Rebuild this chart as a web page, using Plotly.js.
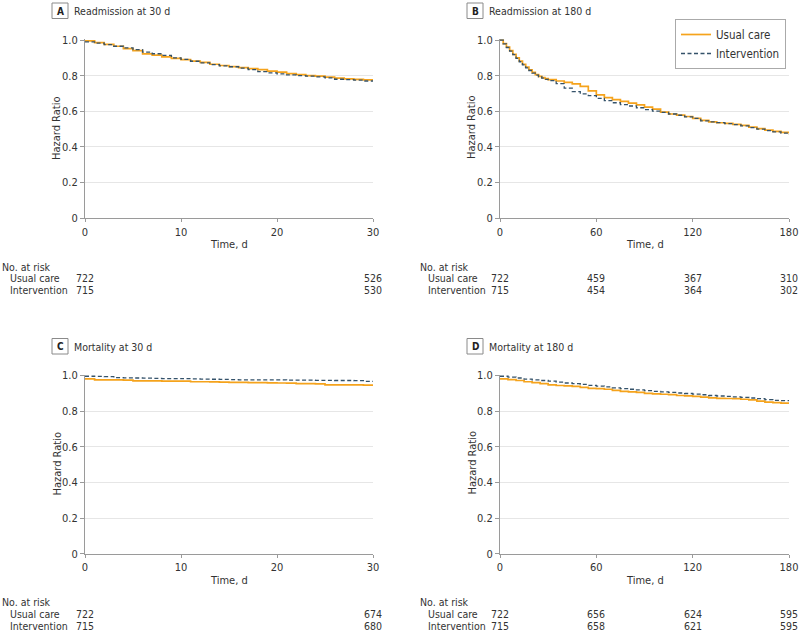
<!DOCTYPE html>
<html>
<head>
<meta charset="utf-8">
<script src="https://cdn.plot.ly/plotly-3.0.1.min.js"></script>
<style>html,body{margin:0;padding:0;background:#fff;}#chart{width:800px;height:633px;}</style>
</head>
<body>
<div id="chart"></div>
<script>
// ---- Data ----
const panelLabels = ["A", "B", "C", "D"];
const panelTitles = ["Readmission at 30 d", "Readmission at 180 d", "Mortality at 30 d", "Mortality at 180 d"];
const seriesNames = ["Usual care", "Intervention"];

const days30 = [0,1,2,3,4,5,6,7,8,9,10,11,12,13,14,15,16,17,18,19,20,21,22,23,24,25,26,27,28,29,30];
const days180 = [0,5,10,15,20,25,30,35,40,45,50,55,60,65,70,75,80,85,90,95,100,105,110,115,120,125,130,135,140,145,150,155,160,165,170,175,180];
const days180B = [0,2,4,6,8,10,12,14,16,18,20,22,24,26,28,30,35,40,45,50,55,60,65,70,75,80,85,90,95,100,105,110,115,120,125,130,135,140,145,150,155,160,165,170,175,180];

const readm30Usual = [0.995,0.985,0.975,0.965,0.952,0.940,0.922,0.915,0.905,0.897,0.890,0.882,0.875,0.864,0.857,0.851,0.845,0.840,0.834,0.826,0.820,0.811,0.806,0.800,0.797,0.792,0.786,0.782,0.779,0.776,0.773];
const readm30Interv = [0.990,0.982,0.974,0.965,0.956,0.946,0.932,0.923,0.914,0.900,0.891,0.881,0.872,0.862,0.855,0.850,0.842,0.834,0.823,0.816,0.810,0.804,0.800,0.797,0.793,0.788,0.780,0.778,0.775,0.770,0.767];

const readm180Usual = [1.000,0.980,0.960,0.940,0.920,0.900,0.882,0.864,0.848,0.833,0.818,0.806,0.796,0.789,0.783,0.778,0.770,0.762,0.754,0.740,0.715,0.692,0.677,0.666,0.656,0.646,0.636,0.624,0.612,0.596,0.585,0.579,0.571,0.561,0.549,0.541,0.536,0.532,0.527,0.521,0.511,0.503,0.495,0.488,0.482,0.476];
const readm180Interv = [1.000,0.978,0.958,0.938,0.918,0.897,0.878,0.860,0.844,0.829,0.814,0.803,0.794,0.786,0.779,0.772,0.755,0.730,0.710,0.698,0.688,0.673,0.660,0.648,0.638,0.630,0.620,0.610,0.601,0.594,0.585,0.578,0.569,0.560,0.547,0.541,0.537,0.531,0.525,0.518,0.509,0.500,0.492,0.485,0.478,0.469];

const mort30Usual = [0.981,0.976,0.976,0.975,0.974,0.970,0.970,0.970,0.969,0.968,0.968,0.965,0.965,0.964,0.963,0.961,0.961,0.960,0.960,0.959,0.958,0.957,0.955,0.954,0.953,0.948,0.948,0.947,0.947,0.946,0.946];
const mort30Interv = [0.996,0.995,0.994,0.988,0.987,0.986,0.985,0.984,0.983,0.983,0.982,0.981,0.980,0.979,0.978,0.977,0.976,0.976,0.975,0.975,0.975,0.974,0.974,0.974,0.973,0.973,0.972,0.972,0.971,0.967,0.967];

const mort180Usual = [0.981,0.977,0.972,0.965,0.960,0.955,0.948,0.944,0.942,0.939,0.933,0.928,0.926,0.923,0.917,0.911,0.908,0.905,0.900,0.897,0.895,0.893,0.888,0.886,0.883,0.879,0.875,0.872,0.871,0.870,0.867,0.863,0.856,0.851,0.848,0.845,0.842];
const mort180Interv = [0.996,0.991,0.986,0.980,0.976,0.972,0.968,0.963,0.958,0.954,0.950,0.945,0.941,0.936,0.931,0.927,0.923,0.919,0.915,0.911,0.908,0.905,0.902,0.899,0.896,0.892,0.888,0.885,0.883,0.880,0.877,0.874,0.870,0.865,0.861,0.859,0.857];

const yTickVals = [0, 0.2, 0.4, 0.6, 0.8, 1.0];
const yTickText = ["0", "0.2", "0.4", "0.6", "0.8", "1.0"];
const x30Ticks = [0, 10, 20, 30];
const x180Ticks = [0, 60, 120, 180];

const riskTimes30 = [0, 30];
const riskTimes180 = [0, 60, 120, 180];
const riskA_usual = [722, 526];
const riskA_interv = [715, 530];
const riskB_usual = [722, 459, 367, 310];
const riskB_interv = [715, 454, 364, 302];
const riskC_usual = [722, 674];
const riskC_interv = [715, 680];
const riskD_usual = [722, 656, 624, 595];
const riskD_interv = [715, 658, 621, 595];

// ---- Styling ----
const FONT = "'DejaVu Sans Condensed', 'Liberation Sans Narrow', Arial, sans-serif";
const TXT = "#333333";
const ORANGE = "#f5a31c";
const DASH = "#34526a";
const W = 800, H = 633;
const px = v => v / W;
const py = v => 1 - v / H;

const panels = [
  {x: days30, u: readm30Usual, i: readm30Interv, xa: "x", ya: "y", ticks: x30Ticks, range: [0, 30], rt: riskTimes30, ru: riskA_usual, ri: riskA_interv, left: 0, top: 0},
  {x: days180B, u: readm180Usual, i: readm180Interv, xa: "x2", ya: "y2", ticks: x180Ticks, range: [0, 180], rt: riskTimes180, ru: riskB_usual, ri: riskB_interv, left: 415, top: 0},
  {x: days30, u: mort30Usual, i: mort30Interv, xa: "x3", ya: "y3", ticks: x30Ticks, range: [0, 30], rt: riskTimes30, ru: riskC_usual, ri: riskC_interv, left: 0, top: 335.5},
  {x: days180, u: mort180Usual, i: mort180Interv, xa: "x4", ya: "y4", ticks: x180Ticks, range: [0, 180], rt: riskTimes180, ru: riskD_usual, ri: riskD_interv, left: 415, top: 335.5}
];

const traces = [];
panels.forEach((p, k) => {
  traces.push({x: p.x, y: p.u, xaxis: p.xa, yaxis: p.ya, type: "scatter", mode: "lines", name: seriesNames[0],
    line: {color: ORANGE, width: 1.7, shape: "hv"}, showlegend: k === 0, hoverinfo: "skip"});
  traces.push({x: p.x, y: p.i, xaxis: p.xa, yaxis: p.ya, type: "scatter", mode: "lines", name: seriesNames[1],
    line: {color: DASH, width: 1.3, shape: "hv", dash: "4px,2.5px"}, showlegend: k === 0, hoverinfo: "skip"});
});

const layout = {
  width: W, height: H,
  margin: {l: 0, r: 0, t: 0, b: 0},
  paper_bgcolor: "#fff", plot_bgcolor: "#fff",
  font: {family: FONT, size: 11, color: TXT},
  showlegend: true,
  legend: {x: px(675), y: py(19), xanchor: "left", yanchor: "top", bgcolor: "#fff", bordercolor: "#aaaaaa", borderwidth: 1,
    font: {family: FONT, size: 11.5, color: TXT}, tracegroupgap: 0, itemwidth: 30},
  annotations: [], shapes: []
};

const xDomLeft = [px(85), px(373)];
const xDomRight = [px(500), px(789)];
const yDomTop = [py(218.3), py(39.3)];
const yDomBot = [py(553.8), py(374.8)];

function xaxisDef(p, dom, anchor) {
  return {domain: dom, anchor: anchor, range: p.range, tickvals: p.ticks, showgrid: false, zeroline: false,
    showline: true, linecolor: "#9a9a9a", linewidth: 1, ticks: "outside", ticklen: 3, tickcolor: "#9a9a9a",
    tickfont: {family: FONT, size: 11, color: TXT}, fixedrange: true};
}
function yaxisDef(dom, anchor) {
  return {domain: dom, anchor: anchor, range: [0, 1.004], tickvals: yTickVals, ticktext: yTickText, showgrid: true,
    gridcolor: "#e6e6e6", gridwidth: 1, zeroline: false, showline: true, linecolor: "#9a9a9a", linewidth: 1,
    ticks: "outside", ticklen: 4, tickcolor: "#9a9a9a", tickfont: {family: FONT, size: 11, color: TXT}, fixedrange: true};
}
layout.xaxis = xaxisDef(panels[0], xDomLeft, "y");
layout.yaxis = yaxisDef(yDomTop, "x");
layout.xaxis2 = xaxisDef(panels[1], xDomRight, "y2");
layout.yaxis2 = yaxisDef(yDomTop, "x2");
layout.xaxis3 = xaxisDef(panels[2], xDomLeft, "y3");
layout.yaxis3 = yaxisDef(yDomBot, "x3");
layout.xaxis4 = xaxisDef(panels[3], xDomRight, "y4");
layout.yaxis4 = yaxisDef(yDomBot, "x4");

const TS = 10.5; // table font size
panels.forEach((p, k) => {
  const L = p.left, T = p.top;
  // label box
  layout.shapes.push({type: "rect", xref: "paper", yref: "paper", x0: px(52 + L), x1: px(68 + L), y0: py(18.5 + T), y1: py(3 + T),
    line: {color: "#8a8a8a", width: 1}, fillcolor: "#fff"});
  layout.annotations.push({xref: "paper", yref: "paper", x: px(60 + L), y: py(11 + T), text: "<b>" + panelLabels[k] + "</b>",
    showarrow: false, xanchor: "center", yanchor: "middle", font: {family: FONT, size: 10, color: "#222"}});
  layout.annotations.push({xref: "paper", yref: "paper", x: px(72 + L), y: py(11 + T), text: panelTitles[k],
    showarrow: false, xanchor: "left", yanchor: "middle", font: {family: FONT, size: 10.5, color: TXT}});
  // y title
  layout.annotations.push({xref: "paper", yref: "paper", x: px(57 + L), y: py(128 + T), text: "Hazard Ratio", textangle: -90,
    showarrow: false, xanchor: "center", yanchor: "middle", font: {family: FONT, size: 11, color: TXT}});
  // x title
  const xCenter = (k % 2 === 0) ? 229 : 645;
  layout.annotations.push({xref: "paper", yref: "paper", x: px(xCenter), y: py(245 + T), text: "Time, d",
    showarrow: false, xanchor: "center", yanchor: "middle", font: {family: FONT, size: 11, color: TXT}});
  // at risk table
  const base = (k % 2 === 0) ? 0 : 418;
  layout.annotations.push({xref: "paper", yref: "paper", x: px(base), y: py(266.5 + T), text: "No. at risk",
    showarrow: false, xanchor: "left", yanchor: "middle", font: {family: FONT, size: TS, color: TXT}});
  layout.annotations.push({xref: "paper", yref: "paper", x: px(base + 8), y: py(278.3 + T), text: seriesNames[0],
    showarrow: false, xanchor: "left", yanchor: "middle", font: {family: FONT, size: TS, color: TXT}});
  layout.annotations.push({xref: "paper", yref: "paper", x: px(base + 8), y: py(290 + T), text: seriesNames[1],
    showarrow: false, xanchor: "left", yanchor: "middle", font: {family: FONT, size: TS, color: TXT}});
  p.rt.forEach((t, j) => {
    layout.annotations.push({xref: p.xa, yref: "paper", x: t, y: py(278.3 + T), text: String(p.ru[j]),
      showarrow: false, xanchor: "center", yanchor: "middle", font: {family: FONT, size: TS, color: TXT}});
    layout.annotations.push({xref: p.xa, yref: "paper", x: t, y: py(290 + T), text: String(p.ri[j]),
      showarrow: false, xanchor: "center", yanchor: "middle", font: {family: FONT, size: TS, color: TXT}});
  });
});

Plotly.newPlot("chart", traces, layout, {staticPlot: true, displayModeBar: false});
</script>
</body>
</html>
